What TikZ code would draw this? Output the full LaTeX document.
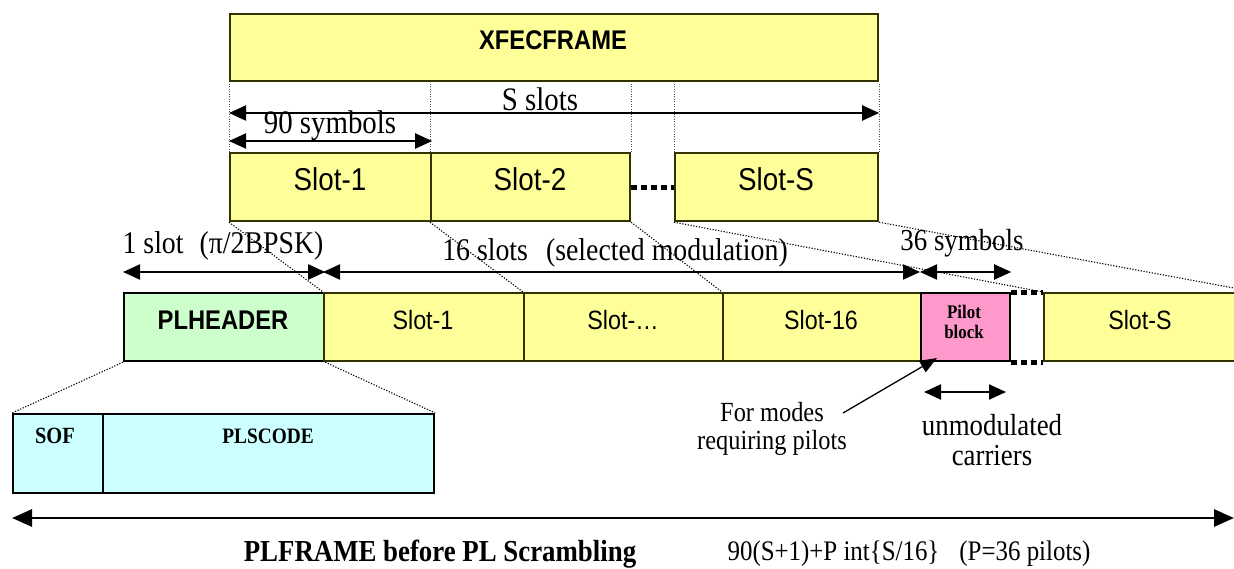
\documentclass[tikz,border=0pt]{standalone}
\usepackage{fontspec}
\setmainfont{Liberation Serif}
\newfontfamily\serifw[FakeStretch=0.88]{Liberation Serif}
\newfontfamily\sansw[FakeStretch=0.88]{Liberation Sans}
\usetikzlibrary{arrows.meta,calc}
\definecolor{yel}{HTML}{FFFF99}
\definecolor{grn}{HTML}{CCFFCC}
\definecolor{pnk}{HTML}{FF99CC}
\definecolor{cyn}{HTML}{CCFFFF}
\definecolor{edgeol}{HTML}{333300}
\newcommand\fsz[1]{\fontsize{#1}{#1}\selectfont}
\begin{document}
\begin{tikzpicture}[x=1pt,y=-1pt,
  ybox/.style={draw=edgeol, line width=2.2pt, fill=yel, inner sep=0pt, anchor=north west},
  kbox/.style={draw=black, line width=2.2pt, inner sep=0pt, anchor=north west},
  dim/.style={line width=2pt, {Triangle[length=17pt,width=15pt]}-{Triangle[length=17pt,width=15pt]}},
  vdot/.style={black!70, line width=0.8pt, dash pattern=on 1pt off 1.5pt},
  ddot/.style={black, line width=1.1pt, dash pattern=on 1.2pt off 1.6pt},
  tdot/.style={line width=5pt, dash pattern=on 6pt off 4pt},
  lab/.style={font=\serifw\fsz{31.6}, inner sep=0pt, align=center},
  usf/.style={font=\sansw\fsz{31.6}, inner sep=0pt},
  lsf/.style={font=\sansw\fsz{26.5}, inner sep=0pt},
]
\useasboundingbox (0,0) rectangle (1234,568);
% XFECFRAME
\node[ybox, minimum width=648pt, minimum height=67pt] (xfec) at (229,13) {};
\node[font=\sansw\bfseries\fsz{27}, inner sep=0pt] (xfect) at (553,40) {XFECFRAME};
% upper slots
\node[ybox, minimum width=201pt, minimum height=68pt] (s1) at (229,152) {};
\node[ybox, minimum width=199pt, minimum height=68pt] (s2) at (430,152) {};
\node[ybox, minimum width=203pt, minimum height=68pt] (ss) at (674,152) {};
\node[usf] (s1t) at (330,179) {Slot-1};
\node[usf] (s2t) at (530,179) {Slot-2};
\node[usf] (sst) at (776,179) {Slot-S};
\draw[tdot] (s2.east) -- (ss.west);
% vertical dotted guides
\draw[vdot] (s1.north west) -- (xfec.south west);
\draw[vdot] (s2.north west) -- (s2.north west |- xfec.south);
\draw[vdot] (s2.north east) -- (s2.north east |- xfec.south);
\draw[vdot] (ss.north west) -- (ss.north west |- xfec.south);
\draw[vdot] (ss.north east) -- (xfec.south east);
% dimension arrows upper
\draw[dim] (s1.north west |- 0,113) -- (ss.north east |- 0,113);
\node[lab, font=\serifw\fsz{32.8}] (sslots) at (540,99) {S slots};
\draw[dim] (s1.north west |- 0,141) -- (s1.north east |- 0,141);
\node[lab, font=\serifw\fsz{32.8}] (ninety) at (330,126) {90 symbols};
% lower row
\node[kbox, fill=grn, minimum width=200pt, minimum height=68pt] (ph) at (123,292) {};
\node[ybox, minimum width=200pt, minimum height=68pt] (l1) at (323,292) {};
\node[ybox, minimum width=199pt, minimum height=68pt] (ld) at (523,292) {};
\node[ybox, minimum width=198pt, minimum height=68pt] (l16) at (722,292) {};
\node[kbox, fill=pnk, minimum width=89pt, minimum height=68pt] (pb) at (920,292) {};
\node[ybox, minimum width=210pt, minimum height=68pt] (ls) at (1043,292) {};
\node[font=\sansw\bfseries\fsz{27}, inner sep=0pt] (pht) at (223,320) {PLHEADER};
\node[lsf] (l1t) at (423,320) {Slot-1};
\node[lsf] (ldt) at (623,320) {Slot-…};
\node[lsf] (l16t) at (821,320) {Slot-16};
\node[lsf] (lst) at (1140,320) {Slot-S};
\node[font=\serifw\bfseries\fsz{19.2}, inner sep=0pt, align=center] (pbt) at (964,322) {Pilot\\block};
\draw[tdot] (pb.north east) -- (ls.north west);
\draw[tdot] (pb.south east) -- (ls.south west);
% diagonal dotted projections
\draw[ddot] (s1.south west) -- (l1.north west);
\draw[ddot] (s2.south west) -- (ld.north west);
\draw[ddot] (s2.south east) -- (l16.north west);
\draw[ddot] (ss.south west) -- (ls.north west);
\draw[ddot] (ss.south east) -- (ls.north east);
% dimension arrows lower
\draw[dim] (ph.north west |- 0,272) -- (ph.north east |- 0,272);
\draw[dim] (l1.north west |- 0,272) -- (pb.north west |- 0,272);
\draw[dim] (pb.north west |- 0,272) -- (pb.north east |- 0,272);
\node[lab] (oneslot) at (223,246) {1 slot\hspace{16pt}(π/2BPSK)};
\node[lab] (sixteen) at (615,253) {16 slots\hspace{18pt}(selected modulation)};
\node[lab, font=\serifw\fsz{30.5}] (thirtysix) at (962,243) {36 symbols};
% SOF / PLSCODE
\node[kbox, fill=cyn, minimum width=90pt, minimum height=79pt] (sof) at (12,413) {};
\node[kbox, fill=cyn, minimum width=331pt, minimum height=79pt] (pls) at (102,413) {};
\node[font=\serifw\bfseries\fsz{23.2}, inner sep=0pt] (soft) at (55,436) {SOF};
\node[font=\serifw\bfseries\fsz{22}, inner sep=0pt] (plst) at (268,436) {PLSCODE};
\draw[ddot] (ph.south west) -- (sof.north west);
\draw[ddot] (ph.south east) -- (pls.north east);
% pilot annotations
\node[lab, font=\serifw\fsz{27.7}, align=center] (formodes) at (772,429) {For modes\\[1pt]requiring pilots};
\coordinate (fmstart) at (843,413);
\coordinate (ptip) at (937,358);
\draw[line width=1.3pt, -{Triangle[length=17pt,width=13pt]}] (fmstart) -- (ptip);
\coordinate (ua) at (924,392);
\coordinate (ub) at (1006,392);
\draw[dim] (ua) -- (ub);
\node[lab, font=\serifw\fsz{30.5}, align=center] (unmod) at (992,440) {unmodulated\\carriers};
% PLFRAME arrow
\coordinate (pfl) at (12,518);
\coordinate (pfr) at (1234,518);
\draw[line width=2.8pt, {Triangle[length=20pt,width=17pt]}-{Triangle[length=20pt,width=17pt]}] (pfl) -- (pfr);
\node[font=\serifw\bfseries\fsz{30.5}, inner sep=0pt] (plframe) at (440,554) {PLFRAME before PL Scrambling};
\node[font=\serifw\fsz{28.3}, inner sep=0pt] (formula) at (909,554) {90(S+1)+P int\{S/16\}\hspace{20pt}(P=36 pilots)};
\end{tikzpicture}
\end{document}
